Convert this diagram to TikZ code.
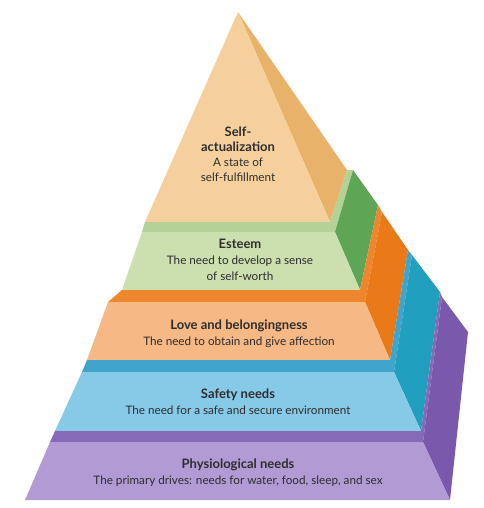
\documentclass[tikz,border=0pt]{standalone}
\usepackage{fontspec}
\setmainfont{Lato}
\usepackage{xcolor}
\definecolor{ApexFront}{RGB}{246,208,156}
\definecolor{ApexSide}{RGB}{232,178,106}
\definecolor{EsteemTop}{RGB}{180,210,152}
\definecolor{EsteemFront}{RGB}{204,223,174}
\definecolor{EsteemSide}{RGB}{94,166,86}
\definecolor{LoveTop}{RGB}{238,134,46}
\definecolor{LoveFront}{RGB}{246,184,132}
\definecolor{LoveSide}{RGB}{234,122,24}
\definecolor{SafetyTop}{RGB}{64,164,204}
\definecolor{SafetyFront}{RGB}{134,202,232}
\definecolor{SafetySide}{RGB}{32,160,190}
\definecolor{PhysioTop}{RGB}{134,106,184}
\definecolor{PhysioFront}{RGB}{178,154,212}
\definecolor{PhysioSide}{RGB}{122,88,172}
\definecolor{LabelGrey}{RGB}{45,45,45}
\usepackage{tikz}
\newcommand{\needhead}[1]{{\fontsize{13}{16}\selectfont\bfseries #1}}

\begin{document}
\begin{tikzpicture}[
    x=1pt,
    y=-1pt,
    needtext/.style={
        align=center,
        text=LabelGrey,
        inner sep=0pt,
        font=\fontsize{11.7}{16.2}\selectfont
    }
]
%
    \fill[
        white
    ]
    (0,0)
    rectangle
    (483,508);
    \useasboundingbox
    (0,0)
    rectangle
    (483,508);
%
    \fill[
        ApexSide
    ]
    (238,12) -- (347,170) -- (330,222) -- cycle;
    \fill[
        ApexFront
    ]
    (238,12) -- (330,222) -- (145,222) -- cycle;
%
    \fill[
        EsteemTop
    ]
    (145,222) -- (330,222) -- (347,170) -- (353,170)
    -- (335,232) -- (142,232) -- cycle;
    \fill[
        EsteemSide
    ]
    (353,170) -- (378,205) -- (360,290) -- (335,232) -- cycle;
    \fill[
        EsteemFront
    ]
    (142,232) -- (335,232) -- (360,290) -- (122,290) -- cycle;
%
    \fill[
        LoveTop
    ]
    (122,290) -- (360,290) -- (378,205) -- (382,212)
    -- (365,302) -- (108,302) -- cycle;
    \fill[
        LoveSide
    ]
    (382,212) -- (408,250) -- (390,360) -- (365,302) -- cycle;
    \fill[
        LoveFront
    ]
    (108,302) -- (365,302) -- (390,360) -- (87,360) -- cycle;
%
    \fill[
        SafetyTop
    ]
    (87,360) -- (390,360) -- (408,250) -- (412,255)
    -- (394,372) -- (82,372) -- cycle;
    \fill[
        SafetySide
    ]
    (412,255) -- (440,292) -- (421,431) -- (394,372) -- cycle;
    \fill[
        SafetyFront
    ]
    (82,372) -- (394,372) -- (421,431) -- (55,431) -- cycle;
%
    \fill[
        PhysioTop
    ]
    (55,431) -- (421,431) -- (440,292) -- (442,297)
    -- (423,442) -- (50,442) -- cycle;
    \fill[
        PhysioSide
    ]
    (442,297) -- (468,332) -- (450,500) -- (423,442) -- cycle;
    \fill[
        PhysioFront
    ]
    (50,442) -- (423,442) -- (450,500) -- (25,500) -- cycle;
%
    \node[
        needtext,
        font=\fontsize{11.7}{15}\selectfont
    ] (selfact) at (238,154) {
        \needhead{Self-}\\
        \needhead{actualization}\\
        A state of\\
        self-fulfillment
    };
%
    \node[
        needtext
    ] (esteem) at (240,260) {
        \needhead{Esteem}\\
        The need to develop a sense\\
        of self-worth
    };
%
    \node[
        needtext
    ] (love) at (239,334) {
        \needhead{Love and belongingness}\\
        The need to obtain and give affection
    };
%
    \node[
        needtext
    ] (safety) at (238,402) {
        \needhead{Safety needs}\\
        The need for a safe and secure environment
    };
%
    \node[
        needtext
    ] (physio) at (238,473) {
        \needhead{Physiological needs}\\
        The primary drives: needs for water, food, sleep, and sex
    };
%
\end{tikzpicture}
\end{document}
